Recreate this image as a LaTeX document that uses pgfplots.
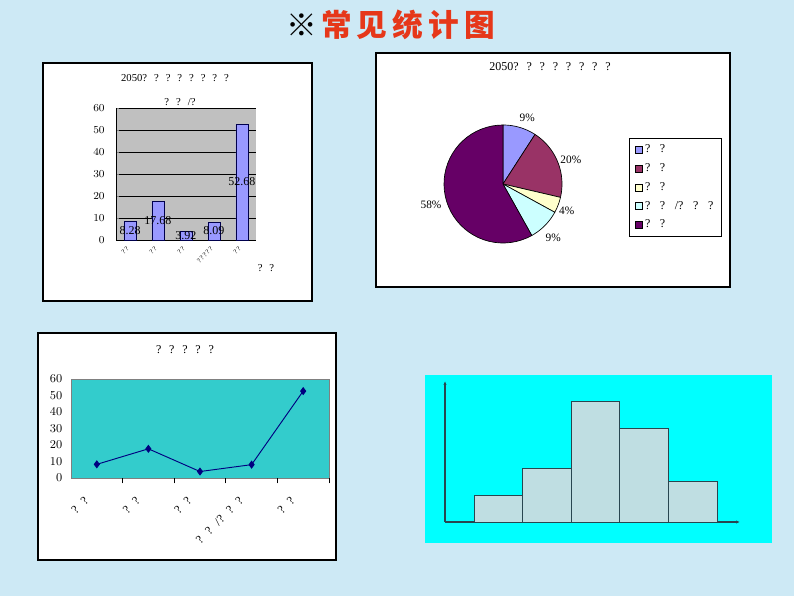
\documentclass[border=0pt]{standalone}
\usepackage{fontspec}
\setmainfont{Liberation Serif}
\newfontfamily\cjk{Noto Sans CJK SC}
\usepackage{pgfplots}
\pgfplotsset{compat=1.18}
\usetikzlibrary{arrows.meta}
\definecolor{slidebg}{RGB}{205,233,245}
\definecolor{barblue}{RGB}{153,153,255}
\definecolor{barbg}{RGB}{192,192,192}
\definecolor{plum}{RGB}{153,51,102}
\definecolor{ivory}{RGB}{255,255,204}
\definecolor{lcyan}{RGB}{204,255,255}
\definecolor{darkplum}{RGB}{102,0,102}
\definecolor{teal1}{RGB}{51,204,204}
\definecolor{navy1}{RGB}{0,0,128}
\definecolor{histbar}{RGB}{191,222,226}
\definecolor{histedge}{RGB}{40,70,80}
\definecolor{histcyan}{RGB}{0,255,255}
\definecolor{titlered}{RGB}{230,55,25}
\newcommand\qs{\hspace{0.65em}}
\newcommand\ls{\hspace{0.8em}}
\newcommand\fs[1]{\fontsize{#1}{#1}\selectfont}
\begin{document}
\begin{tikzpicture}[x=0.75pt,y=0.75pt]
\fill[slidebg] (0,0) rectangle (794,596);
% title
\node at (391,571) {\cjk\bfseries\fs{23}※\hspace{3pt}\textcolor{titlered}{常\hspace{4pt}见\hspace{4pt}统\hspace{4pt}计\hspace{4pt}图}};

% ---------- panel 1: bar chart ----------
\draw[black, line width=0.9pt, fill=white] (43,295) rectangle (312,533);
\node[font=\fs{8}] at (175,518) {2050?\qs?\qs?\qs?\qs?\qs?\qs?\qs?};
\node[font=\fs{8}] at (180,494) {?\qs?\qs/?};
\node[font=\fs{8}] at (266,328) {?\qs?};
\coordinate (p1) at (116,356);
\begin{axis}[at={(p1)}, anchor=south west, scale only axis,
  width=105pt, height=99pt,
  xmin=-0.5, xmax=4.5, ymin=0, ymax=60,
  ytick={0,10,...,60},
  axis background/.style={fill=barbg},
  ymajorgrids, grid style={black, line width=0.6pt},
  axis x line*=bottom, axis y line*=left,
  axis line style={black, line width=0.6pt},
  major tick length=2pt,
  xtick={0,...,4},
  xticklabels={?\,?, ?\,?, ?\,?, ?\,?\,?\,?\,?, ?\,?},
  xticklabel style={rotate=45, anchor=east, font=\fs{5}, xshift=-2pt, yshift=-3pt},
  yticklabel style={font=\fs{8}, xshift=-5pt},
  clip=false]
\addplot[ybar, bar width=9pt, fill=barblue, draw=black!70!blue, line width=0.6pt]
  coordinates {(0,8.28) (1,17.68) (2,3.92) (3,8.09) (4,52.68)};
\addplot[draw=none, nodes near coords, point meta=explicit symbolic,
  nodes near coords style={anchor=center, font=\fs{9}}]
  coordinates {(0,4.14)[8.28] (1,8.84)[17.68] (2,1.96)[3.92] (3,4.05)[8.09] (4,26.34)[52.68]};
\end{axis}

% ---------- panel 2: pie chart ----------
\draw[black, line width=0.9pt, fill=white] (376,309) rectangle (730,543);
\node[font=\fs{9}] at (550,529) {2050?\qs?\qs?\qs?\qs?\qs?\qs?\qs?};
\coordinate (pc) at (503,412);
\begin{axis}[at={(pc)}, anchor=center, scale only axis,
  width=88.5pt, height=88.5pt,
  xmin=-1, xmax=1, ymin=-1, ymax=1, hide axis, clip=false,
  legend style={at={(1.568,0.89)}, anchor=north west, draw=black, fill=white,
    font=\fs{9}, row sep=2.6pt, inner xsep=4pt, inner ysep=3pt, line width=0.6pt},
  legend cell align=left,
  legend image code/.code={\draw[#1, draw=black, line width=0.5pt] (0pt,-2.6pt) rectangle (5.2pt,2.6pt);},
  every axis plot/.append style={line width=0.5pt, draw=black, samples=40}]
\addplot[fill=barblue, domain=57.12:90] ({cos(x)},{sin(x)}) -- (axis cs:0,0) -- cycle;
\addlegendentry{?\ls?}
\addplot[fill=plum, domain=-13.10:57.12] ({cos(x)},{sin(x)}) -- (axis cs:0,0) -- cycle;
\addlegendentry{?\ls?}
\addplot[fill=ivory, domain=-28.66:-13.10] ({cos(x)},{sin(x)}) -- (axis cs:0,0) -- cycle;
\addlegendentry{?\ls?}
\addplot[fill=lcyan, domain=-60.79:-28.66] ({cos(x)},{sin(x)}) -- (axis cs:0,0) -- cycle;
\addlegendentry{?\ls?\ls/?\ls?\ls?}
\addplot[fill=darkplum, domain=-270:-60.79] ({cos(x)},{sin(x)}) -- (axis cs:0,0) -- cycle;
\addlegendentry{?\ls?}
\node[font=\fs{8.5}] at (axis cs:0.41,1.12) {9\%};
\node[font=\fs{8.5}] at (axis cs:1.15,0.41) {20\%};
\node[font=\fs{8.5}] at (axis cs:1.08,-0.46) {4\%};
\node[font=\fs{8.5}] at (axis cs:0.85,-0.92) {9\%};
\node[font=\fs{8.5}] at (axis cs:-1.22,-0.36) {58\%};
\end{axis}

% ---------- panel 3: line chart ----------
\draw[black, line width=0.9pt, fill=white] (38,36) rectangle (336,263);
\node[font=\fs{9}] at (185,246) {?\qs?\qs?\qs?\qs?};
\coordinate (p3) at (71,118);
\begin{axis}[at={(p3)}, anchor=south west, scale only axis,
  width=193.5pt, height=74.25pt,
  xmin=-0.5, xmax=4.5, ymin=0, ymax=60,
  ytick={0,10,...,60},
  axis background/.style={fill=teal1},
  axis line style={gray, line width=0.6pt},
  major tick length=0pt,
  xtick pos=bottom, ytick pos=left,
  xtick={0,...,4},
  xticklabels={?\qs?, ?\qs?, ?\qs?, ?\qs?\qs/?\qs?\qs?, ?\qs?},
  xticklabel style={rotate=45, anchor=east, font=\fs{9}, xshift=-13pt, yshift=-5.4pt},
  yticklabel style={font=\fs{9}, xshift=-3pt},
  extra x ticks={0.5,1.5,2.5,3.5,4.5},
  extra x tick labels={},
  extra x tick style={major tick length=4pt, tick align=outside, tick style={black, line width=0.6pt}},
  clip=false]
\addplot[navy1, line width=0.7pt, mark=diamond*, mark size=2.5pt, mark options={fill=navy1}]
  coordinates {(0,8.28) (1,17.68) (2,3.92) (3,8.09) (4,52.68)};
\end{axis}

% ---------- panel 4: histogram ----------
\fill[histcyan] (425,53) rectangle (772,221);
\coordinate (p4) at (445,74);
\begin{axis}[at={(p4)}, anchor=south west, scale only axis,
  width=221.25pt, height=105.75pt,
  xmin=0.403, xmax=6.473, ymin=0, ymax=10.52,
  axis lines=left,
  axis line style={histedge, line width=0.8pt, -{Latex[length=3pt,width=2.5pt]}},
  xtick=\empty, ytick=\empty]
\addplot[ybar interval, fill=histbar, draw=histedge, line width=0.7pt]
  coordinates {(1,2) (2,4) (3,9) (4,7) (5,3) (6,3)};
\end{axis}
\pgfresetboundingbox
\useasboundingbox (0,0) rectangle (794,596);
\end{tikzpicture}
\end{document}
